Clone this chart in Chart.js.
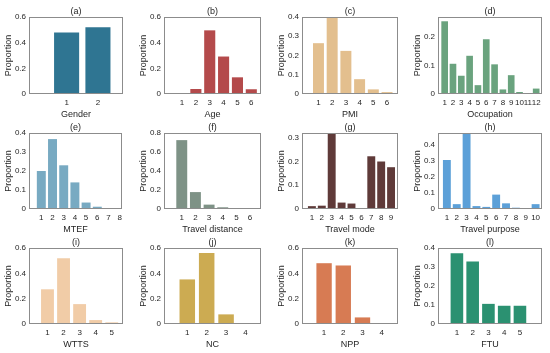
<!DOCTYPE html>
<html lang="en">
<head>
    <meta charset="UTF-8">
    <title>Sample characteristics</title>
    <script src="https://cdn.jsdelivr.net/npm/chart.js@4"></script>
    <style>
        body {
            margin: 0;
            background: #fff;
        }
        #grid {
            position: relative;
            width: 550px;
            height: 353px;
        }
        #grid canvas {
            position: absolute;
        }
    </style>
</head>
<body>
    <div id="grid"></div>

    <script>
        // categories (x values)
        const genderCats = [1, 2];
        const ageCats = [1, 2, 3, 4, 5, 6];
        const pmiCats = [1, 2, 3, 4, 5, 6];
        const occupationCats = [1, 2, 3, 4, 5, 6, 7, 8, 9, 10, 11, 12];
        const mtefCats = [1, 2, 3, 4, 5, 6, 7, 8];
        const distanceCats = [1, 2, 3, 4, 5, 6];
        const modeCats = [1, 2, 3, 4, 5, 6, 7, 8, 9];
        const purposeCats = [1, 2, 3, 4, 5, 6, 7, 8, 9, 10];
        const wttsCats = [1, 2, 3, 4, 5];
        const ncCats = [1, 2, 3, 4];
        const nppCats = [1, 2, 3, 4];
        const ftuCats = [1, 2, 3, 4, 5];

        // proportions
        const genderVals = [0.48, 0.52];
        const ageVals = [0.005, 0.039, 0.496, 0.292, 0.13, 0.037];
        const pmiVals = [0.264, 0.40, 0.224, 0.077, 0.024, 0.01];
        const occupationVals = [0.255, 0.106, 0.064, 0.134, 0.031, 0.192, 0.104, 0.016, 0.066, 0.007, 0.003, 0.019];
        const mtefVals = [0.2, 0.368, 0.23, 0.14, 0.034, 0.012, 0.002, 0.002];
        const distanceVals = [0.725, 0.178, 0.046, 0.018, 0.009, 0.004];
        const modeVals = [0.012, 0.014, 0.32, 0.027, 0.023, 0.001, 0.222, 0.2, 0.176];
        const purposeVals = [0.303, 0.03, 0.47, 0.018, 0.013, 0.089, 0.035, 0.008, 0.004, 0.03];
        const wttsVals = [0.274, 0.52, 0.157, 0.031, 0.013];
        const ncVals = [0.352, 0.561, 0.076, 0.002];
        const nppVals = [0.48, 0.462, 0.052, 0.001];
        const ftuVals = [0.372, 0.329, 0.106, 0.096, 0.096];

        // y tick labels
        const yTicks06 = [0, 0.2, 0.4, 0.6];
        const yTicks08 = [0, 0.2, 0.4, 0.6, 0.8];
        const yTicks04 = [0, 0.1, 0.2, 0.3, 0.4];
        const yTicks03 = [0, 0.1, 0.2, 0.3];
        const yTicks02 = [0, 0.1, 0.2];

        const panels = [
            { tag: '(a)', name: 'Gender', cats: genderCats, vals: genderVals, yt: yTicks06, ymax: 0.6, xmin: -0.2, xmax: 2.8, color: '#2f7592' },
            { tag: '(b)', name: 'Age', cats: ageCats, vals: ageVals, yt: yTicks06, ymax: 0.6, xmin: -0.3, xmax: 6.7, color: '#b44a4b' },
            { tag: '(c)', name: 'PMI', cats: pmiCats, vals: pmiVals, yt: yTicks04, ymax: 0.4, xmin: -0.2, xmax: 6.8, color: '#e3bf8e' },
            { tag: '(d)', name: 'Occupation', cats: occupationCats, vals: occupationVals, yt: yTicks02, ymax: 0.27, xmin: 0.2, xmax: 12.7, color: '#6aa37e' },
            { tag: '(e)', name: 'MTEF', cats: mtefCats, vals: mtefVals, yt: yTicks04, ymax: 0.4, xmin: -0.1, xmax: 8.2, color: '#78aac2' },
            { tag: '(f)', name: 'Travel distance', cats: distanceCats, vals: distanceVals, yt: yTicks08, ymax: 0.8, xmin: -0.3, xmax: 6.8, color: '#7e9286' },
            { tag: '(g)', name: 'Travel mode', cats: modeCats, vals: modeVals, yt: yTicks03, ymax: 0.32, xmin: 0, xmax: 9.7, color: '#5f3a39' },
            { tag: '(h)', name: 'Travel purpose', cats: purposeCats, vals: purposeVals, yt: yTicks04, ymax: 0.47, xmin: 0.1, xmax: 10.65, color: '#5ca0d8' },
            { tag: '(i)', name: 'WTTS', cats: wttsCats, vals: wttsVals, yt: yTicks06, ymax: 0.6, xmin: -0.15, xmax: 5.7, color: '#f1cca7' },
            { tag: '(j)', name: 'NC', cats: ncCats, vals: ncVals, yt: yTicks06, ymax: 0.6, xmin: -0.2, xmax: 4.8, color: '#ccab52' },
            { tag: '(k)', name: 'NPP', cats: nppCats, vals: nppVals, yt: yTicks06, ymax: 0.6, xmin: -0.15, xmax: 4.85, color: '#d77b53' },
            { tag: '(l)', name: 'FTU', cats: ftuCats, vals: ftuVals, yt: yTicks04, ymax: 0.4, xmin: -0.2, xmax: 6.4, color: '#2b9171' }
        ];

        // axes box placement (px)
        const colLeft = [29, 164, 302, 438];
        const colWidth = [94, 97, 96, 104];
        const rowTop = [17, 133, 248];
        const rowHeight = [77, 76, 76];

        const font = "'Liberation Sans', Arial, sans-serif";
        const textColor = '#262626';

        // frame around each plot area
        const boxFrame = {
            id: 'boxFrame',
            afterDatasetsDraw(chart) {
                const a = chart.chartArea;
                const ctx = chart.ctx;
                ctx.save();
                ctx.strokeStyle = '#8c8c8c';
                ctx.lineWidth = 1;
                ctx.strokeRect(Math.round(a.left) + 0.5, Math.round(a.top) + 0.5,
                    Math.round(a.right - a.left) - 1, Math.round(a.bottom - a.top) - 1);
                ctx.restore();
            }
        };

        const grid = document.getElementById('grid');

        panels.forEach((p, i) => {
            const col = i % 4;
            const row = Math.floor(i / 4);
            const canvas = document.createElement('canvas');
            canvas.width = colWidth[col] + 29 + 3;
            canvas.height = rowHeight[row] + 17 + 26;
            canvas.style.left = (colLeft[col] - 29) + 'px';
            canvas.style.top = (rowTop[row] - 17) + 'px';
            grid.appendChild(canvas);

            new Chart(canvas.getContext('2d'), {
                type: 'bar',
                data: {
                    labels: p.cats,
                    datasets: [{
                        data: p.vals,
                        backgroundColor: p.color,
                        borderWidth: 0,
                        barPercentage: 0.8,
                        categoryPercentage: 1
                    }]
                },
                options: {
                    responsive: false,
                    animation: false,
                    layout: { padding: { right: 3 } },
                    plugins: {
                        legend: { display: false },
                        tooltip: { enabled: false },
                        title: {
                            display: true,
                            text: p.tag,
                            fullSize: false,
                            color: textColor,
                            font: { family: font, size: 9, weight: 'normal' },
                            padding: { top: 6.2, bottom: 0 }
                        }
                    },
                    scales: {
                        x: {
                            type: 'linear',
                            offset: false,
                            min: p.xmin,
                            max: p.xmax,
                            grid: { display: false, drawTicks: false },
                            border: { display: false },
                            afterBuildTicks: s => { s.ticks = p.cats.map(v => ({ value: v })); },
                            afterFit: s => { s.height = 26; },
                            ticks: {
                                autoSkip: false,
                                maxRotation: 0,
                                padding: 4,
                                color: textColor,
                                font: { family: font, size: 8 },
                                callback: v => String(v)
                            },
                            title: {
                                display: true,
                                text: p.name,
                                color: textColor,
                                font: { family: font, size: 9 },
                                padding: { top: 0, bottom: 0 }
                            }
                        },
                        y: {
                            min: 0,
                            max: p.ymax,
                            grid: { display: false, drawTicks: false },
                            border: { display: false },
                            afterBuildTicks: s => { s.ticks = p.yt.map(v => ({ value: v })); },
                            afterFit: s => { s.width = 29; },
                            ticks: {
                                padding: 3,
                                color: textColor,
                                font: { family: font, size: 8 },
                                callback: v => String(v)
                            },
                            title: {
                                display: true,
                                text: 'Proportion',
                                color: textColor,
                                font: { family: font, size: 9 },
                                padding: { top: 3, bottom: 0 }
                            }
                        }
                    }
                },
                plugins: [boxFrame]
            });
        });
    </script>
</body>
</html>
